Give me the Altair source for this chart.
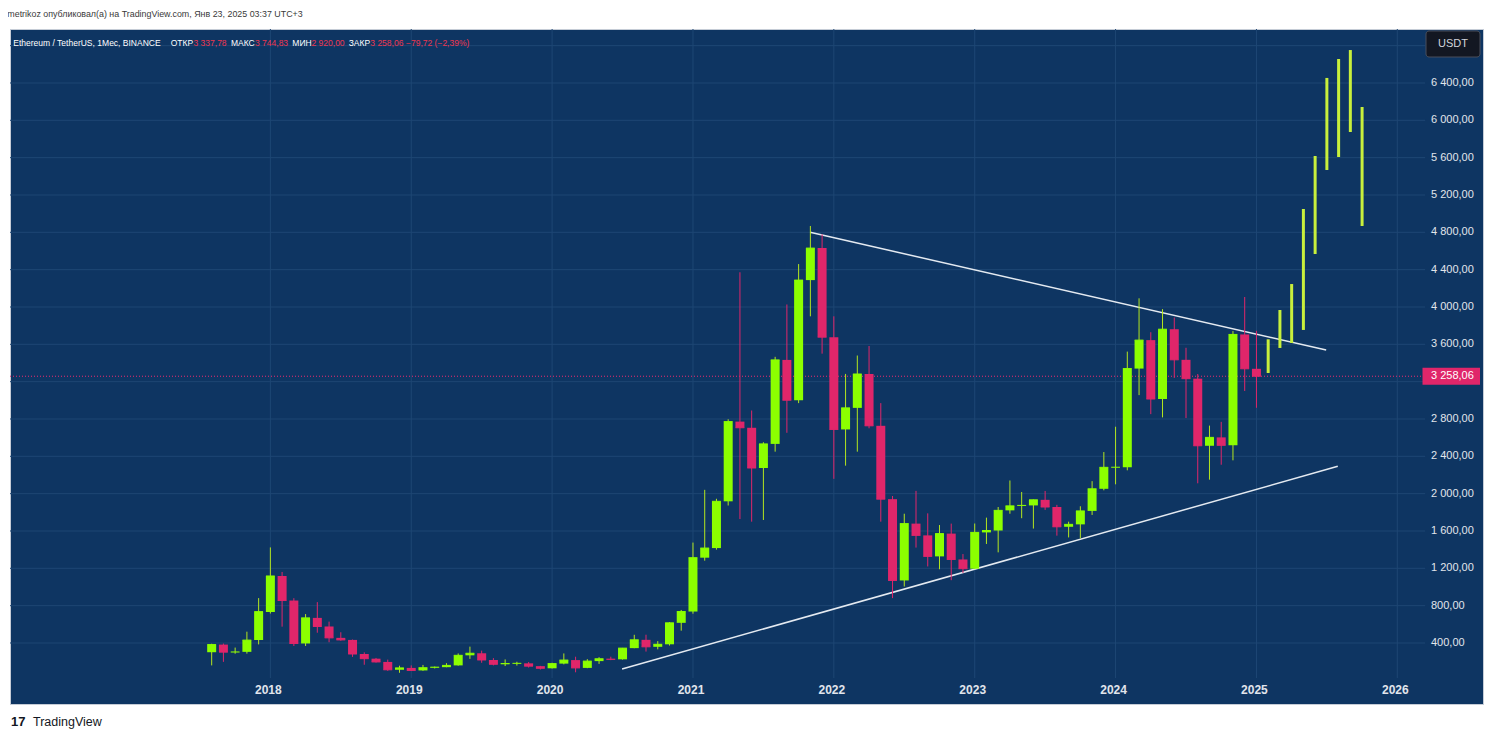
import altair as alt
import pandas as pd

# ---------------- data ----------------
# Monthly candles, Aug 2017 (index 0) .. Jan 2025 (index 89)
opens = [301.13, 383, 302, 305, 432, 733, 1118, 855, 395, 669, 577, 455, 433, 282, 232, 197, 113, 133, 106, 135,
         141, 160, 268, 290, 218, 172, 180, 182, 152, 129, 179, 217, 133, 206, 231, 225, 345, 434, 359, 386,
         616, 737, 1314, 1417, 1918, 2772, 2706, 2275, 2533, 3433, 3001, 4288, 4631, 3677, 2688, 2919, 3282, 2727, 1941, 1070,
         1679, 1553, 1328, 1572, 1295, 1196, 1585, 1605, 1821, 1869, 1874, 1934, 1857, 1645, 1671, 1815, 2052, 2282, 2283, 3340,
         3645, 3014, 3762, 3434, 3232, 2513, 2603, 2518, 3706, 3337.78]
highs = [392, 394, 351, 521, 881, 1424, 1161, 880, 710, 838, 629, 515, 437, 300, 240, 222, 157, 160, 165, 148,
         184, 288, 361, 318, 238, 224, 199, 196, 155, 188, 288, 253, 227, 248, 253, 347, 488, 489, 420, 623,
         754, 1476, 2041, 1945, 2797, 4372, 2891, 2551, 3466, 4027, 4460, 4868, 4778, 3900, 3283, 3480, 3582, 2970, 1975, 1785,
         2030, 1789, 1664, 1679, 1353, 1680, 1743, 1857, 2141, 2018, 1937, 2029, 1880, 1700, 1865, 2134, 2446, 2717, 3522, 4093,
         3730, 3977, 3887, 3563, 3282, 2729, 2769, 3742, 4107, 3744.83]
lows = [160, 198, 285, 286, 385, 716, 575, 368, 368, 510, 408, 424, 251, 167, 190, 101, 81, 100, 102, 127,
        140, 157, 230, 188, 160, 153, 158, 137, 116, 127, 171, 86, 130, 176, 216, 222, 344, 308, 332, 373,
        532, 714, 1282, 1400, 1873, 1728, 1700, 1718, 2450, 2652, 2970, 3900, 3500, 2159, 2300, 2450, 2700, 1700, 881, 1005,
        1422, 1220, 1190, 1073, 1150, 1190, 1461, 1371, 1785, 1737, 1626, 1826, 1550, 1531, 1521, 1772, 2036, 2100, 2250, 3056,
        2852, 2817, 3240, 2810, 2111, 2150, 2310, 2357, 3100, 2920.00]
closes = [383, 302, 304, 431, 736, 1118, 855, 395, 669, 577, 455, 433, 282, 232, 197, 113, 133, 106, 135, 141,
          160, 268, 290, 218, 172, 180, 182, 152, 129, 179, 217, 133, 206, 231, 225, 345, 434, 359, 386, 616,
          737, 1314, 1417, 1918, 2772, 2706, 2275, 2533, 3433, 3001, 4288, 4631, 3677, 2688, 2919, 3282, 2727, 1941, 1070, 1679,
          1553, 1328, 1572, 1295, 1196, 1585, 1605, 1821, 1869, 1874, 1934, 1857, 1645, 1671, 1815, 2052, 2282, 2283, 3340, 3645,
          3014, 3762, 3434, 3232, 2513, 2603, 2518, 3706, 3337.78, 3258.06]
month_idx = list(range(len(opens)))

# projected bars (Feb 2025 .. Oct 2025)
proj_idx = [90, 91, 92, 93, 94, 95, 96, 97, 98]
proj_low = [3293, 3561, 3614, 3754, 4568, 5468, 5607, 5875, 4868]
proj_high = [3654, 3968, 4246, 5050, 5618, 6454, 6657, 6753, 6143]

# trend lines (month index, price)
line_name = ["upper", "upper", "lower", "lower"]
line_m = [50.98, 94.94, 34.96, 95.93]
line_p = [4800, 3539, 121, 2293]

year_labels = [2018, 2019, 2020, 2021, 2022, 2023, 2024, 2025, 2026]
year_idx = [5 + 12 * i for i in range(len(year_labels))]
grid_prices = [400 * i for i in range(1, 18)]
# 3 200,00 sits under the last-price marker, so it is not printed
label_prices = [400, 800, 1200, 1600, 2000, 2400, 2800, 3600, 4000, 4400, 4800, 5200, 5600, 6000, 6400]
last_close = 3258.06

header_texts = ["Ethereum / TetherUS, 1Мес, BINANCE", "ОТКР", "3 337,78", "МАКС", "3 744,83",
                "МИН", "2 920,00", "ЗАКР", "3 258,06", "−79,72 (−2,39%)"]
header_kind = ["w", "w", "r", "w", "r", "w", "r", "w", "r", "r"]

# ---------------- style / layout ----------------
W, H = 1473, 675
X_DOM = [-17.18, 108.30]
Y_DOM = [-253.6, 6978.4]
DATA_RIGHT = 103.37
DATA_BOTTOM = 25.0


def px2m(px):
    return X_DOM[0] + px / W * (X_DOM[1] - X_DOM[0])


def py2p(py):
    return Y_DOM[1] - py / H * (Y_DOM[1] - Y_DOM[0])


def fmt_price(v):
    return "{:,.2f}".format(v).replace(",", " ").replace(".", ",")


BG = "#0e3562"
GRID = "#1e4774"
GREEN = "#8cff00"
GREEN_WICK = "#b4e61f"
RED = "#e0266a"
PROJ = "#c8f03c"
LINE = "#e4eaf1"
AXIS_TXT = "#e1e5ec"
SANS = "Liberation Sans, Arial, sans-serif"

df = pd.DataFrame({"m": month_idx, "open": opens, "high": highs, "low": lows, "close": closes})
df["body_col"] = [GREEN if c >= o else RED for o, c in zip(opens, closes)]
df["wick_col"] = [GREEN_WICK if c >= o else RED for o, c in zip(opens, closes)]
proj = pd.DataFrame({"m": proj_idx, "low": proj_low, "high": proj_high})
lines = pd.DataFrame({"line": line_name, "m": line_m, "p": line_p})
vgrid = pd.DataFrame({"m": year_idx, "ya": [Y_DOM[1]] * len(year_idx), "yb": [DATA_BOTTOM] * len(year_idx)})
hgrid = pd.DataFrame({"p": grid_prices, "xa": [X_DOM[0]] * len(grid_prices), "xb": [DATA_RIGHT] * len(grid_prices)})
ylab = pd.DataFrame({"p": label_prices, "t": [fmt_price(v) for v in label_prices],
                     "tx": [px2m(1421)] * len(label_prices)})
xlab = pd.DataFrame({"m": year_idx, "t": [str(y) for y in year_labels], "ty": [py2p(661)] * len(year_idx)})
pline = pd.DataFrame({"p": [last_close], "xa": [X_DOM[0]], "xb": [DATA_RIGHT]})
half = 8.4 * (Y_DOM[1] - Y_DOM[0]) / H
pbox = pd.DataFrame({"xa": [px2m(1412.5)], "xb": [px2m(1470)], "ya": [last_close + half], "yb": [last_close - half]})
ptext = pd.DataFrame({"t": [fmt_price(last_close)], "tx": [px2m(1421)], "ty": [last_close]})
ubox = pd.DataFrame({"xa": [px2m(1416)], "xb": [px2m(1470)], "ya": [py2p(2)], "yb": [py2p(28)]})
utext = pd.DataFrame({"t": ["USDT"], "tx": [px2m(1443)], "ty": [py2p(15)]})
header_px = [3.3, 160.7, 183.5, 221, 245, 282.3, 301.5, 338.7, 360.3, 396]
htext = pd.DataFrame({"t": header_texts, "tx": [px2m(v) for v in header_px], "ty": [py2p(13.5)] * len(header_px),
                      "c": ["#ffffff" if k == "w" else "#f0364f" for k in header_kind]})
toptext = pd.DataFrame({"t": ["metrikoz опубликовал(а) на TradingView.com, Янв 23, 2025 03:37 UTC+3"],
                        "tx": [px2m(-2.7)], "ty": [py2p(-15.5)]})
logotext = pd.DataFrame({"t": ["17"], "tx": [px2m(1)], "ty": [py2p(693)]})
foottext = pd.DataFrame({"t": ["TradingView"], "tx": [px2m(23)], "ty": [py2p(693)]})

xs = alt.Scale(domain=X_DOM, nice=False, zero=False, padding=0)
ys = alt.Scale(domain=Y_DOM, nice=False, zero=False, padding=0)


def X(f):
    return alt.X(f, type="quantitative", scale=xs, axis=None)


def Y(f):
    return alt.Y(f, type="quantitative", scale=ys, axis=None)


hgrid_layer = alt.Chart(hgrid).mark_rule(color=GRID, strokeWidth=1).encode(
    y=Y("p"), x=X("xa"), x2="xb")
vgrid_layer = alt.Chart(vgrid).mark_rule(color=GRID, strokeWidth=1).encode(
    x=X("m"), y=Y("ya"), y2="yb")
ylab_layer = alt.Chart(ylab).mark_text(align="left", baseline="middle", font=SANS, fontSize=11,
                                       color=AXIS_TXT).encode(x=X("tx"), y=Y("p"), text="t:N")
xlab_layer = alt.Chart(xlab).mark_text(align="center", baseline="middle", font=SANS, fontSize=12,
                                       fontWeight="bold", color=AXIS_TXT, dx=-2).encode(x=X("m"), y=Y("ty"), text="t:N")
price_line = alt.Chart(pline).mark_rule(color="#ec2a6e", strokeWidth=1, strokeDash=[1, 2]).encode(
    y=Y("p"), x=X("xa"), x2="xb")
trend = alt.Chart(lines).mark_line(color=LINE, strokeWidth=1.5).encode(
    x=X("m"), y=Y("p"), detail="line:N")
wicks = alt.Chart(df).mark_rule(strokeWidth=1).encode(
    x=X("m"), y=Y("low"), y2="high", color=alt.Color("wick_col:N", scale=None))
bodies = alt.Chart(df).mark_bar(size=9).encode(
    x=X("m"), y=Y("open"), y2="close", color=alt.Color("body_col:N", scale=None))
doji = alt.Chart(df).transform_calculate(xa="datum.m - 0.375", xb="datum.m + 0.375").mark_rule(strokeWidth=1).encode(
    x=X("xa"), x2="xb", y=Y("close"), color=alt.Color("body_col:N", scale=None))
proj_layer = alt.Chart(proj).mark_bar(size=3, color=PROJ).encode(
    x=X("m"), y=Y("low"), y2="high")

price_box = alt.Chart(pbox).mark_rect(color=RED).encode(x=X("xa"), x2="xb", y=Y("ya"), y2="yb")
price_text = alt.Chart(ptext).mark_text(align="left", baseline="middle", color="white", font=SANS,
                                        fontSize=11).encode(x=X("tx"), y=Y("ty"), text="t:N")
usdt_box = alt.Chart(ubox).mark_rect(fill="#131722", stroke="#4b4f5a", strokeWidth=1, cornerRadius=3).encode(
    x=X("xa"), x2="xb", y=Y("ya"), y2="yb")
usdt_txt = alt.Chart(utext).mark_text(align="center", baseline="middle", color="#d1d4dc", font=SANS,
                                      fontSize=11).encode(x=X("tx"), y=Y("ty"), text="t:N")
header_layer = alt.Chart(htext).mark_text(align="left", baseline="middle", font=SANS, fontSize=8.5).encode(
    x=X("tx"), y=Y("ty"), text="t:N", color=alt.Color("c:N", scale=None))
top_layer = alt.Chart(toptext).mark_text(align="left", baseline="middle", font=SANS, fontSize=8.9,
                                         color="#3a3a3a").encode(x=X("tx"), y=Y("ty"), text="t:N")
logo_layer = alt.Chart(logotext).mark_text(align="left", baseline="middle", font=SANS, fontSize=13,
                                           fontWeight="bold", color="#131722").encode(x=X("tx"), y=Y("ty"), text="t:N")
foot_layer = alt.Chart(foottext).mark_text(align="left", baseline="middle", font=SANS, fontSize=12.5,
                                           color="#131722").encode(x=X("tx"), y=Y("ty"), text="t:N")

chart = alt.layer(
    hgrid_layer, vgrid_layer, ylab_layer, xlab_layer, price_line, trend, wicks, bodies, doji, proj_layer,
    price_box, price_text, usdt_box, usdt_txt, header_layer, top_layer, logo_layer, foot_layer
).properties(
    width=W, height=H,
    padding={"left": 2, "top": 21, "right": 3, "bottom": 29},
    autosize=alt.AutoSizeParams(type="none"),
    background="white",
).configure_view(fill=BG, stroke="#c5ccd6", strokeWidth=1)

chart.save("out.html", embed_options={"renderer": "svg", "actions": False})
